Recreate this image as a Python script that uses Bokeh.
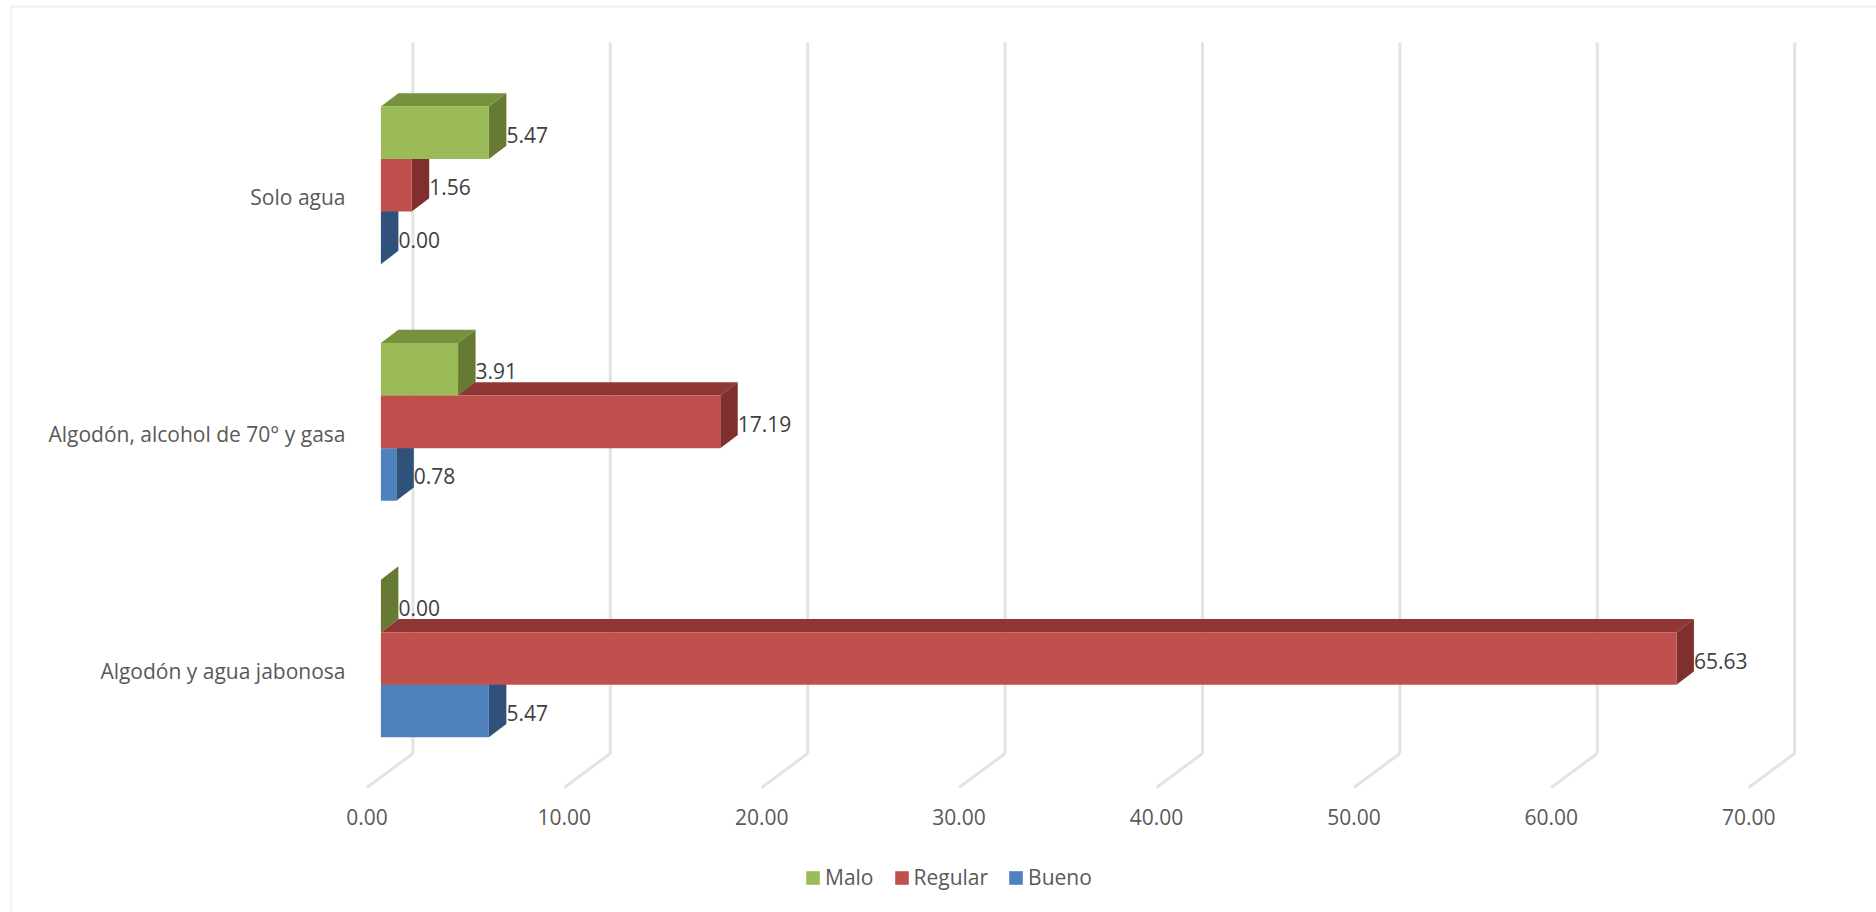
from bokeh.embed import file_html
from bokeh.models import (BoxAnnotation, ColumnDataSource, FixedTicker, Legend, LegendItem,
                          LinearAxis, NumeralTickFormatter, Range1d)
from bokeh.plotting import figure
from bokeh.resources import INLINE

categories = ["Algodón y agua jabonosa", "Algodón, alcohol de 70° y gasa", "Solo agua"]
series_names = ["Bueno", "Regular", "Malo"]
bueno = [5.47, 0.78, 0.00]
regular = [65.63, 17.19, 1.56]
malo = [0.00, 3.91, 5.47]
x_ticks = [0, 10, 20, 30, 40, 50, 60, 70]

FRONT = {"Bueno": "#4F81BD", "Regular": "#C0504D", "Malo": "#9BBB59"}
TOP = {"Bueno": "#385D8A", "Regular": "#8F3735", "Malo": "#76923C"}
SIDE = {"Bueno": "#30527A", "Regular": "#7F302E", "Malo": "#667A33"}

W, H = 1876, 912
X0_PX = 380.4       # pixel of value 0 on the front plane of the bars
PX_PER_UNIT = 19.74
Y0_PX = 776.3       # pixel of the bottom of the first category band
PX_PER_BAND = 236.6

FONT = "Open Sans"
FONT_SIZE = "21px"

# Oblique projection: depth moves a face right and up.
BAR_DX = 17.5 / PX_PER_UNIT
BAR_DY = 13.3 / PX_PER_BAND
WALL_DX = 32.0 / PX_PER_UNIT
WALL_Y0 = (Y0_PX - 753.0) / PX_PER_BAND
WALL_Y1 = (Y0_PX - 42.0) / PX_PER_BAND
FLOOR_DX = -14.0 / PX_PER_UNIT
FLOOR_Y = (Y0_PX - 787.0) / PX_PER_BAND
BAR_H = 1 / 4.5     # three bars plus a 150% gap


def x_range_for(origin_px):
    return Range1d((0 - origin_px) / PX_PER_UNIT, (W - origin_px) / PX_PER_UNIT)


def y_range_for(origin_px):
    return Range1d((origin_px - H) / PX_PER_BAND, origin_px / PX_PER_BAND)


p = figure(width=W, height=H, output_backend="svg", toolbar_location=None,
           x_range=x_range_for(X0_PX), y_range=y_range_for(Y0_PX),
           min_border=0, outline_line_color=None, background_fill_color="white",
           x_axis_type=None, y_axis_type=None)
p.xgrid.visible = False
p.ygrid.visible = False

# Chart border along the top and left edges (screen y counts up from the bottom here)
p.add_layout(BoxAnnotation(left=10.5, right=W + 20, top=H - 6, bottom=-20,
                           left_units="screen", right_units="screen",
                           top_units="screen", bottom_units="screen",
                           fill_alpha=0, line_color="#D6D6D6", line_width=2.5, level="overlay"))

# Back wall and floor gridlines
wall_x = [t + WALL_DX for t in x_ticks]
grid_color = "#E3E3E3"
p.segment(x0=wall_x, x1=wall_x, y0=[WALL_Y0] * len(x_ticks), y1=[WALL_Y1] * len(x_ticks),
          line_color=grid_color, line_width=3)
p.segment(x0=[t + FLOOR_DX for t in x_ticks], x1=wall_x,
          y0=[FLOOR_Y] * len(x_ticks), y1=[WALL_Y0] * len(x_ticks),
          line_color=grid_color, line_width=3)

# Bars, lowest series first so that each upper bar covers the top of the one below
values = {"Bueno": bueno, "Regular": regular, "Malo": malo}
legend_refs = {}
label_xs, label_ys, label_txt = [], [], []
for s_idx, name in enumerate(series_names):
    vals = values[name]
    bottoms = [c + 0.5 - 1.5 * BAR_H + s_idx * BAR_H for c in range(len(categories))]
    tops = [b + BAR_H for b in bottoms]
    p.patches(xs=[[0, v, v + BAR_DX, BAR_DX] for v in vals],
              ys=[[t, t, t + BAR_DY, t + BAR_DY] for t in tops],
              fill_color=TOP[name], line_color=None)
    p.patches(xs=[[v, v + BAR_DX, v + BAR_DX, v] for v in vals],
              ys=[[b, b + BAR_DY, t + BAR_DY, t] for b, t in zip(bottoms, tops)],
              fill_color=SIDE[name], line_color=None)
    legend_refs[name] = p.quad(left=[0] * len(vals), right=vals, bottom=bottoms, top=tops,
                               fill_color=FRONT[name], line_color=None)
    for v, b in zip(vals, bottoms):
        label_xs.append(v + BAR_DX)
        label_ys.append(b + BAR_H / 2 - 2 / PX_PER_BAND)
        label_txt.append(f"{v:.2f}")

p.text(x="x", y="y", text="t", source=ColumnDataSource(dict(x=label_xs, y=label_ys, t=label_txt)),
       text_font={"value": FONT}, text_font_size={"value": FONT_SIZE}, text_color="#404040",
       text_align="left", text_baseline="middle")

# Value axis sits on the front edge of the floor
p.extra_x_ranges["front"] = x_range_for(366.4)
x_axis = LinearAxis(x_range_name="front", ticker=FixedTicker(ticks=x_ticks),
                    formatter=NumeralTickFormatter(format="0.00"),
                    fixed_location=(Y0_PX - 796.5) / PX_PER_BAND,
                    axis_line_color=None, major_tick_line_color=None, minor_tick_line_color=None,
                    major_label_text_font=FONT, major_label_text_font_size=FONT_SIZE,
                    major_label_text_color="#595959", major_label_standoff=6)
p.add_layout(x_axis, "below")

# Category axis
p.extra_y_ranges["cats"] = y_range_for(Y0_PX + 12.0)
y_axis = LinearAxis(y_range_name="cats", ticker=FixedTicker(ticks=[0.5, 1.5, 2.5]),
                    major_label_overrides={0.5: categories[0], 1.5: categories[1], 2.5: categories[2]},
                    fixed_location=(357.0 - X0_PX) / PX_PER_UNIT,
                    axis_line_color=None, major_tick_line_color=None, minor_tick_line_color=None,
                    major_label_text_font=FONT, major_label_text_font_size=FONT_SIZE,
                    major_label_text_color="#595959", major_label_standoff=6)
p.add_layout(y_axis, "left")

legend = Legend(items=[LegendItem(label=n, renderers=[legend_refs[n]]) for n in reversed(series_names)],
                orientation="horizontal", location=(804, H - 891),
                border_line_color=None, background_fill_alpha=0, margin=0, padding=0,
                glyph_width=17, glyph_height=17, label_standoff=4, spacing=19,
                label_text_font=FONT, label_text_font_size=FONT_SIZE, label_text_color="#595959",
                label_height=17)
p.add_layout(legend, "center")

open("out.html", "w").write(file_html(p, INLINE))
